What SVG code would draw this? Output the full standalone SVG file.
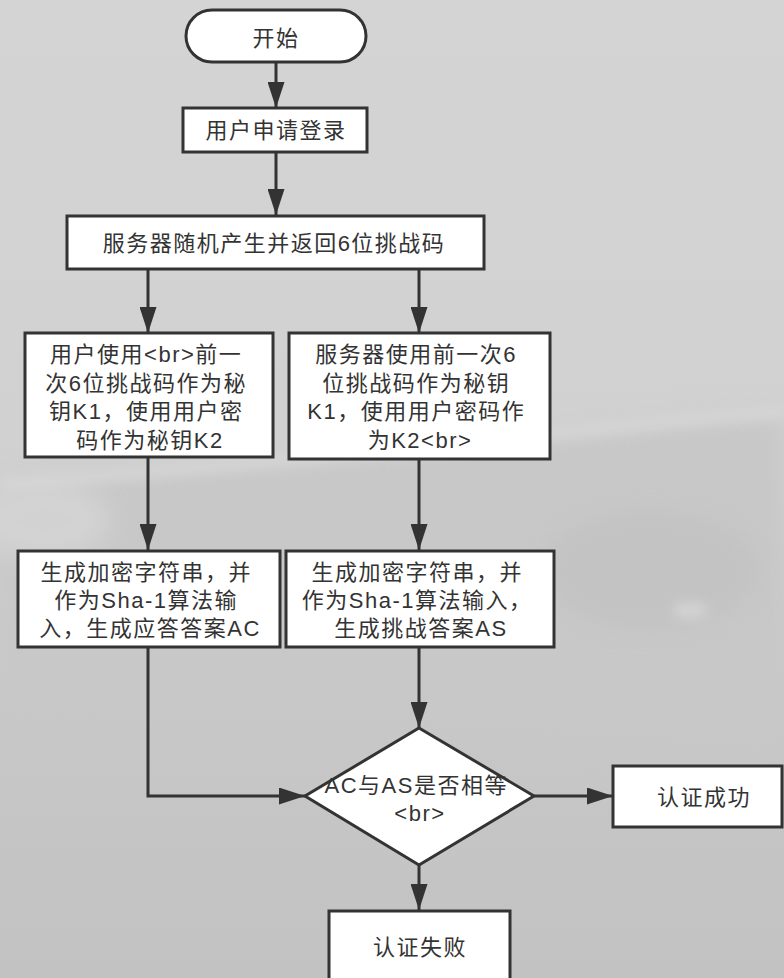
<svg xmlns="http://www.w3.org/2000/svg" width="784" height="978" viewBox="0 0 784 978">
  <defs>
    <linearGradient id="bg" x1="0" y1="0" x2="0" y2="1">
      <stop offset="0" stop-color="#d4d4d4"/>
      <stop offset="0.45" stop-color="#d1d1d1"/>
      <stop offset="0.75" stop-color="#c7c7c7"/>
      <stop offset="1" stop-color="#c2c2c2"/>
    </linearGradient>
    <filter id="blur" x="-30%" y="-30%" width="160%" height="160%">
      <feGaussianBlur stdDeviation="12"/>
    </filter>
    <filter id="blur2" x="-20%" y="-50%" width="140%" height="200%">
      <feGaussianBlur stdDeviation="6"/>
    </filter>
    <marker id="arrow" markerUnits="userSpaceOnUse" markerWidth="26" markerHeight="17" refX="26" refY="8.5" orient="auto">
      <path d="M0,0 L26,8.5 L0,17 Z" fill="#333"/>
    </marker>
    <style>
      .box { fill: #ffffff; stroke: #333333; stroke-width: 3; }
      .conn { fill: none; stroke: #333333; stroke-width: 3; marker-end: url(#arrow); }
      .t { font-family: "Liberation Sans", "Noto Sans CJK SC", sans-serif; font-size: 22px; fill: #333333; text-anchor: middle; letter-spacing: 1.5px; }
    </style>
  </defs>

  <!-- background scene -->
  <rect x="0" y="0" width="784" height="978" fill="url(#bg)"/>
  <path d="M0,480 C120,470 250,462 380,452 C520,440 640,422 784,412 L784,760 C600,740 400,720 0,700 Z" fill="#c8c8c8" filter="url(#blur)"/>
  <path d="M0,485 C140,472 260,462 380,452 C520,440 640,422 784,412" fill="none" stroke="#dcdcdc" stroke-width="12" opacity="0.6" filter="url(#blur2)"/>
  <ellipse cx="45" cy="520" rx="65" ry="40" fill="#dadada" opacity="0.6" filter="url(#blur)"/>
  <ellipse cx="650" cy="570" rx="110" ry="60" fill="#c0c0c0" opacity="0.6" filter="url(#blur)"/>
  <ellipse cx="690" cy="610" rx="18" ry="8" fill="#d8d8d8" opacity="0.8" filter="url(#blur2)"/>

  <!-- connectors -->
  <g id="connectors">
    <line class="conn" x1="276" y1="62" x2="276" y2="108"/>
    <line class="conn" x1="276" y1="152" x2="276" y2="215"/>
    <line class="conn" x1="148" y1="269" x2="148" y2="333"/>
    <line class="conn" x1="419" y1="269" x2="419" y2="333"/>
    <line class="conn" x1="148" y1="457" x2="148" y2="550"/>
    <line class="conn" x1="419" y1="459" x2="419" y2="550"/>
    <polyline class="conn" points="148,647 148,796 305,796"/>
    <line class="conn" x1="419" y1="647" x2="419" y2="728"/>
    <line class="conn" x1="534" y1="796" x2="613" y2="796"/>
    <line class="conn" x1="419" y1="865" x2="419" y2="910"/>
  </g>

  <g id="start">
    <rect class="box" x="186" y="10" width="180" height="52" rx="26" ry="26"/>
    <text class="t" x="276" y="46">开始</text>
  </g>

  <g id="login">
    <rect class="box" x="183" y="108" width="184" height="44"/>
    <text class="t" x="276" y="138">用户申请登录</text>
  </g>

  <g id="challenge">
    <rect class="box" x="67" y="216" width="417" height="53"/>
    <text class="t" x="274" y="251">服务器随机产生并返回6位挑战码</text>
  </g>

  <g id="userkey">
    <rect class="box" x="25" y="333" width="248" height="124"/>
    <text class="t">
      <tspan x="150" y="362">用户使用&lt;br&gt;前一</tspan>
      <tspan x="150" y="391">次6位挑战码作为秘</tspan>
      <tspan x="150" y="419">钥K1，使用用户密</tspan>
      <tspan x="150" y="448">码作为秘钥K2</tspan>
    </text>
  </g>

  <g id="serverkey">
    <rect class="box" x="289" y="333" width="261" height="126"/>
    <text class="t">
      <tspan x="420" y="362">服务器使用前一次6</tspan>
      <tspan x="420" y="391">位挑战码作为秘钥</tspan>
      <tspan x="420" y="419">K1，使用用户密码作</tspan>
      <tspan x="420" y="448">为K2&lt;br&gt;</tspan>
    </text>
  </g>

  <g id="ac">
    <rect class="box" x="18" y="551" width="262" height="96"/>
    <text class="t">
      <tspan x="150" y="580">生成加密字符串，并</tspan>
      <tspan x="150" y="608">作为Sha-1算法输</tspan>
      <tspan x="150" y="636">入，生成应答答案AC</tspan>
    </text>
  </g>

  <g id="as">
    <rect class="box" x="286" y="551" width="268" height="96"/>
    <text class="t">
      <tspan x="421" y="580">生成加密字符串，并</tspan>
      <tspan x="421" y="608">作为Sha-1算法输入，</tspan>
      <tspan x="421" y="636">生成挑战答案AS</tspan>
    </text>
  </g>

  <g id="compare">
    <polygon class="box" points="419,728 534,796 419,865 305,796"/>
    <text class="t">
      <tspan x="420" y="793">AC与AS是否相等</tspan>
      <tspan x="420" y="821">&lt;br&gt;</tspan>
    </text>
  </g>

  <g id="success">
    <rect class="box" x="613" y="766" width="169" height="61"/>
    <text class="t" x="704" y="805">认证成功</text>
  </g>

  <g id="fail">
    <rect class="box" x="329" y="911" width="181" height="80"/>
    <text class="t" x="420" y="955">认证失败</text>
  </g>
</svg>
